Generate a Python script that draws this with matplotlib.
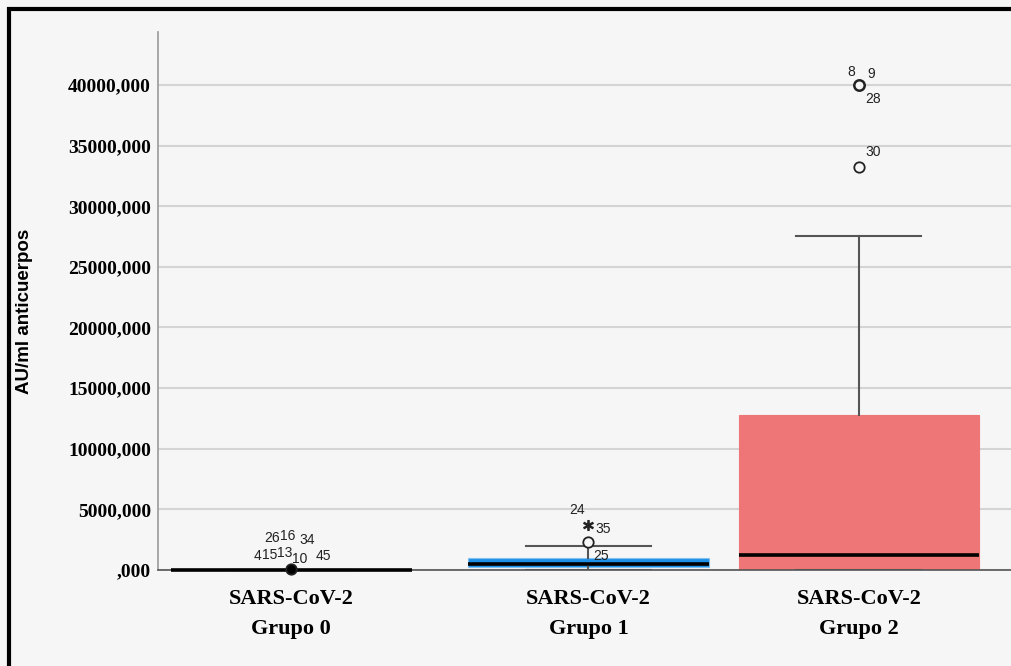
# -*- coding: utf-8 -*-
import matplotlib
matplotlib.use("Agg")
import matplotlib.pyplot as plt
from matplotlib.patches import Rectangle
from matplotlib.ticker import FuncFormatter

#########################################
### DATA (AU/ml)
groups = ["Grupo 0", "Grupo 1", "Grupo 2"]
q1 = [0, 220, 0]
median = [0, 470, 1240]
q3 = [0, 960, 12780]
whisk_lo = [0, 0, 0]
whisk_hi = [0, 2000, 27550]

# outliers: group index, value, marker
out_group = [0, 1, 1, 2, 2]
out_value = [60, 2300, 3700, 40000, 33260]
out_marker = ["o", "o", "*", "o", "o"]
out_filled = [True, False, False, False, False]

# case labels: group index, value of the point it belongs to, text
lab_group = [0, 0, 0, 0, 0, 0, 0, 0, 1, 1, 1, 2, 2, 2, 2]
lab_value = [60, 60, 60, 60, 60, 60, 60, 60, 2300, 3700, 2300, 40000, 40000, 40000, 33260]
lab_text = ["26", "16", "34", "4", "15", "13", "10", "45", "24", "35", "25", "8", "9", "28", "30"]
# offsets in pixels of each label from its point
lab_dx = [-19, -3, 16, -34, -21, -6, 9, 32, -11, 15, 13, -8, 12, 14, 14]
lab_dy = [31, 33, 29, 13, 14, 16, 10, 13, 32, -4, -14, 13, 11, -14, 15]

fill_colors = ["#222222", "#1e8fe6", "#ef7676"]
positions = [0, 1, 1.91]

#########################################
### FIGURE
bg = "#f6f6f6"
fig = plt.figure(figsize=(10.12, 6.66), dpi=100, facecolor=bg)
ax = fig.add_axes([158/1012, 1-570/666, 1-158/1012, (570-32)/666])
ax.set_facecolor(bg)

stats = []
for i in range(len(groups)):
    stats.append(dict(q1=q1[i], med=median[i], q3=q3[i],
                      whislo=whisk_lo[i], whishi=whisk_hi[i], fliers=[]))

bp = ax.bxp(stats, positions=positions, widths=0.81, capwidths=0.42,
            patch_artist=True, showfliers=False,
            medianprops=dict(color="black", linewidth=2.6),
            whiskerprops=dict(color="#555555", linewidth=1.5),
            capprops=dict(color="#555555", linewidth=1.5),
            boxprops=dict(linewidth=0.8))
for patch, c in zip(bp["boxes"], fill_colors):
    patch.set_facecolor(c)
    patch.set_edgecolor(c)
    patch.set_zorder(2)
bp["boxes"][1].set_edgecolor("#7fc0f0")
for med in bp["medians"]:
    med.set_clip_on(False)
    med.set_zorder(3)

for g, v, m, f in zip(out_group, out_value, out_marker, out_filled):
    x = positions[g]
    if m == "*":
        ax.plot(x, v, marker="$*$", ms=7, color="#222222", zorder=4, clip_on=False)
    else:
        ax.plot(x, v, marker="o", ms=7.5,
                mfc="black" if f else bg, mec="#222222",
                mew=1.8 if v == 40000 else 1.3,
                zorder=4, clip_on=False)

for g, v, t, dx, dy in zip(lab_group, lab_value, lab_text, lab_dx, lab_dy):
    ax.annotate(t, (positions[g], v), xytext=(dx, dy), textcoords="offset pixels",
                ha="center", va="center", fontsize=10, family="Liberation Sans",
                color="#222222", zorder=5)

##################### AXES
ax.set_xlim(-0.448, 2.425)
ax.set_ylim(0, 44370)
ax.set_yticks(range(0, 40001, 5000))

def fmt(v, pos):
    s = "%.3f" % v
    s = s.replace(".", ",")
    if s.startswith("0,"):
        s = s[1:]
    return s

ax.yaxis.set_major_formatter(FuncFormatter(fmt))
ax.set_xticks(positions)
ax.set_xticklabels(["SARS-CoV-2\n" + g for g in groups], linespacing=1.62)

for lbl in ax.get_yticklabels():
    lbl.set_fontfamily("Liberation Serif")
    lbl.set_fontweight("bold")
    lbl.set_fontsize(14)
for lbl in ax.get_xticklabels():
    lbl.set_fontfamily("Liberation Serif")
    lbl.set_fontweight("bold")
    lbl.set_fontsize(16)

ax.tick_params(axis="y", length=0, pad=5)
ax.tick_params(axis="x", length=0, pad=14)
ax.grid(True, axis="y", color="#d4d4d4", linewidth=1.5, zorder=0)
ax.set_axisbelow(True)

for s in ["top", "right"]:
    ax.spines[s].set_visible(False)
ax.spines["left"].set_color("#9a9a9a")
ax.spines["left"].set_linewidth(1.2)
ax.spines["bottom"].set_color("#555555")
ax.spines["bottom"].set_linewidth(1.2)

ax.set_ylabel("AU/ml anticuerpos", fontsize=13.5, fontweight="bold",
              family="Liberation Sans")
ax.yaxis.set_label_coords(-0.146, 0.48)

##################### FRAME
fig.patches.append(Rectangle((9/1012, -0.2), 1.5, 1.2 - 9/666,
                             transform=fig.transFigure, fill=False,
                             edgecolor="black", linewidth=3, zorder=10))

##################### SAVE
fig.savefig("out.png", dpi=100, facecolor=bg)
